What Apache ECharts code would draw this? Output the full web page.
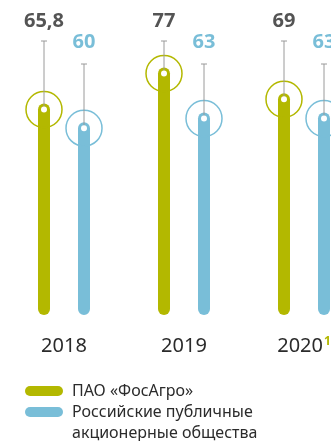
<!DOCTYPE html>
<html>
<head>
<meta charset="utf-8">
<script src="https://cdn.jsdelivr.net/npm/echarts@6/dist/echarts.min.js"></script>
<style>
html,body{margin:0;padding:0;background:#fff;}
#chart{width:331px;height:441px;}
</style>
</head>
<body>
<div id="chart"></div>
<script>
// ---- data ----
const categories = ['2018', '2019', '2020'];
const categoryNotes = ['', '', '1'];
const fosagroValues = [65.8, 77, 69];
const russianValues = [60, 63, 63];
const seriesNames = ['ПАО «ФосАгро»', 'Российские публичные акционерные общества'];

// ---- styles ----
const GREEN = '#b3b800';
const BLUE = '#79bed8';
const fmt = v => String(v).replace('.', ',');

function makeRender(offset, color, labelColor, whiskerTop, labelY) {
  return function (params, api) {
    const idx = api.value(0);
    const val = api.value(1);
    const base = api.coord([idx, 0]);
    const top = api.coord([idx, val]);
    const x = base[0] + offset;
    const yTop = top[1];
    const yBase = base[1];
    const dotY = yTop + 6;
    return {
      type: 'group',
      children: [
        { type: 'rect', shape: { x: x - 6, y: yTop, width: 12, height: yBase - yTop, r: 6 }, style: { fill: color } },
        { type: 'circle', shape: { cx: x, cy: dotY, r: 18 }, style: { fill: 'none', stroke: color, lineWidth: 1.5 } },
        { type: 'line', shape: { x1: x, y1: whiskerTop, x2: x, y2: dotY }, style: { stroke: '#9a9a9a', lineWidth: 1 } },
        { type: 'line', shape: { x1: x - 3, y1: whiskerTop, x2: x + 3, y2: whiskerTop }, style: { stroke: '#9a9a9a', lineWidth: 1 } },
        { type: 'circle', shape: { cx: x, cy: dotY, r: 3 }, style: { fill: '#fff' } },
        { type: 'text', style: { x: x, y: labelY, text: fmt(val), align: 'center', verticalAlign: 'middle',
            fill: labelColor, font: 'bold 20px "Open Sans"' } }
      ]
    };
  };
}

const chart = echarts.init(document.getElementById('chart'), null, { renderer: 'canvas' });
chart.setOption({
  animation: false,
  backgroundColor: '#fff',
  grid: { left: 4, width: 360, top: 0, bottom: 126, outerBoundsMode: 'none', containLabel: false },
  xAxis: {
    type: 'category',
    data: categories,
    axisLine: { show: false },
    axisTick: { show: false },
    axisLabel: {
      margin: 21,
      interval: 0,
      hideOverlap: false,
      formatter: function (v, i) {
        return '{y|' + v + '}' + (categoryNotes[i] ? '{sup|' + categoryNotes[i] + '}' : '');
      },
      rich: {
        y: { fontSize: 20, fontFamily: 'Noto Sans', color: '#2b2b2b' },
        sup: { fontSize: 12, fontFamily: 'Open Sans', fontWeight: 'bold', color: GREEN, verticalAlign: 'top', padding: [0, 0, 6, 1] }
      }
    }
  },
  yAxis: { type: 'value', min: 0, max: 98, show: false },
  legend: [
    {
      data: [seriesNames[0]],
      left: 25, top: 380.5, padding: 0,
      itemWidth: 38, itemHeight: 10,
      icon: 'path://M5,0 H33 A5,5 0 0 1 33,10 H5 A5,5 0 0 1 5,0 Z',
      textStyle: { fontSize: 16, fontFamily: 'Noto Sans', color: '#2b2b2b', lineHeight: 21, padding: [0, 0, 0, 4] }
    },
    {
      data: [seriesNames[1]],
      left: 25, top: 380.5, padding: 0,
      itemWidth: 38, itemHeight: 10,
      icon: 'path://M5,0 H33 A5,5 0 0 1 33,10 H5 A5,5 0 0 1 5,0 Z',
      formatter: name => '\n' + name.replace('публичные ', 'публичные\n'),
      textStyle: { fontSize: 16, fontFamily: 'Noto Sans', color: '#2b2b2b', lineHeight: 21, padding: [0, 0, 0, 4] }
    }
  ],
  series: [
    {
      name: seriesNames[0],
      type: 'custom',
      itemStyle: { color: GREEN },
      renderItem: makeRender(-20, GREEN, '#545454', 41, 21),
      data: fosagroValues.map((v, i) => [i, v])
    },
    {
      name: seriesNames[1],
      type: 'custom',
      itemStyle: { color: BLUE },
      renderItem: makeRender(20, BLUE, BLUE, 64, 42),
      data: russianValues.map((v, i) => [i, v])
    }
  ]
});
</script>
</body>
</html>
